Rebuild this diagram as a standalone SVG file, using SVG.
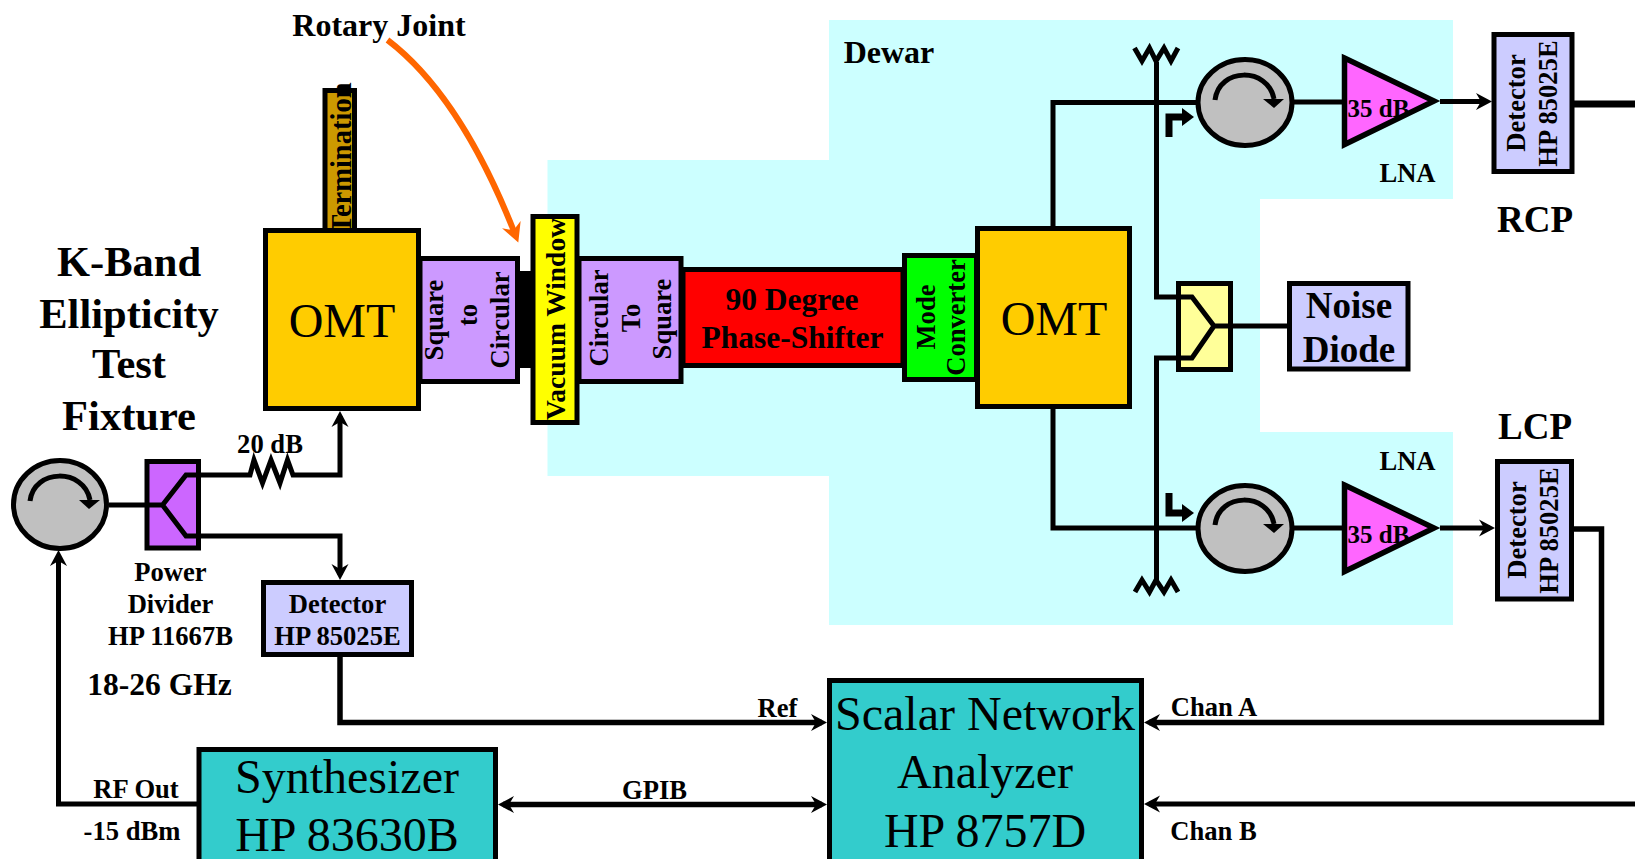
<svg xmlns="http://www.w3.org/2000/svg" width="1635" height="859" viewBox="0 0 1635 859">
<style>
text{font-family:"Liberation Serif","Times New Roman",serif;font-weight:bold;fill:#000;text-anchor:middle}
.reg{font-weight:normal}
.s26{font-size:26.6px}.s31{font-size:31.5px}.s36{font-size:37px}.s41{font-size:42.5px}.s47{font-size:48px}
.box{stroke:#000;stroke-width:5}
.wire{fill:none;stroke:#000;stroke-width:5;stroke-linejoin:miter}
.thick{stroke-width:5.5}
.heavy{stroke-width:7}
.circ{fill:#c0c0c0;stroke:#000;stroke-width:5}
.det{fill:#ccf}
.pur{fill:#c9f}
.omt{fill:#fc0}
.cyan{fill:#3cc}
.amp{fill:#f6f}
</style>
<defs>
<marker id="ah" markerUnits="userSpaceOnUse" markerWidth="18" markerHeight="20" refX="11" refY="9" orient="auto-start-reverse" viewBox="0 0 18 18"><path d="M0,0.5 L16,9 L0,17.5 L5,9 Z" fill="#000"/></marker>
<marker id="oh" markerUnits="userSpaceOnUse" markerWidth="20" markerHeight="24" refX="10" refY="10" orient="auto" viewBox="0 0 20 20"><path d="M0,0 L19,10 L0,20 L6,10 Z" fill="#f60"/></marker>
</defs>
<polygon id="dewar-area" fill="#cff" points="829,20 1453,20 1453,199 1260,199 1260,432 1453,432 1453,625 829,625 829,476 547.5,476 547.5,160 829,160"/>
<g id="connectors">
<path class="wire" d="M109,505 H150"/>
<path class="wire" d="M201,475 H237 L250,475 L254,460 L262.5,483 L271,460 L280,483 L287.5,460 L293,475 H340 V416" marker-end="url(#ah)"/>
<path class="wire" d="M201,536 H340 V575" marker-end="url(#ah)"/>
<path class="wire" d="M340,655 V722.5 H822" marker-end="url(#ah)" style="stroke-width:5.5"/>
<path class="wire" d="M198,804 H58.5 V555" marker-end="url(#ah)"/>
<path class="wire thick" d="M503,804.5 H822" marker-start="url(#ah)" marker-end="url(#ah)"/>
<path class="wire" d="M1574,529 H1601.5 V722.5 H1149" marker-end="url(#ah)" style="stroke-width:5.5"/>
<path class="wire" d="M1635,804 H1149" marker-end="url(#ah)"/>
<path class="wire" d="M1053,228 V102.5 H1198"/>
<path class="wire" d="M1053,408 V528 H1198"/>
<path class="wire" d="M1293,102 H1344"/>
<path class="wire" d="M1293,528 H1344"/>
<path class="wire" d="M1440,101.5 H1487" marker-end="url(#ah)"/>
<path class="wire" d="M1440,528 H1490" marker-end="url(#ah)"/>
<path class="wire heavy" d="M1574,104 H1635"/>
<path class="wire" d="M1156.5,62 V297 H1180"/>
<path class="wire" d="M1156.5,580 V358 H1180"/>
<path class="wire" d="M1134.5,48 L1142,61 L1149.5,48 L1156,61 L1164,48 L1171,61 L1178,48"/>
<path class="wire" d="M1135,592 L1142,580 L1149.5,592 L1156,580 L1164,592 L1171,580 L1178,592"/>
<path class="wire" d="M1230,326 H1290"/>
<path d="M387.5,40 C440,80 482,150 515,234" fill="none" stroke="#f60" stroke-width="6" marker-end="url(#oh)"/>
<path d="M1169,137 V117 H1182" fill="none" stroke="#000" stroke-width="7"/>
<path d="M1182,108 L1194,117 L1182,126 Z" fill="#000"/>
<path d="M1169,493 V513 H1182" fill="none" stroke="#000" stroke-width="7"/>
<path d="M1182,504 L1194,513 L1182,522 Z" fill="#000"/>
</g>
<g id="title"><text class="s41" x="129" y="275.5">K-Band</text><text class="s41" x="129" y="328">Ellipticity</text><text class="s41" x="129" y="378">Test</text><text class="s41" x="129" y="430">Fixture</text></g>
<g id="rotary-label"><text x="379" y="36" font-size="32">Rotary Joint</text></g>
<g id="dewar-label"><text x="889" y="62.5" font-size="32">Dewar</text></g>
<g id="termination"><rect class="box" x="325" y="90.5" width="29.5" height="140" fill="#c90"/><text font-size="28.5" transform="translate(350.5 158) rotate(-90)">Termination</text></g>
<g id="omt-left"><rect class="box omt" x="265.5" y="230.5" width="153" height="178"/><text class="reg" font-size="48" x="342" y="336.5">OMT</text></g>
<g id="square-to-circular"><rect class="box pur" x="420" y="258.5" width="97.5" height="123"/>
<text class="s26" transform="translate(443 320) rotate(-90)">Square</text><text class="s26" transform="translate(477 315) rotate(-90)">to</text><text class="s26" transform="translate(509 320) rotate(-90)">Circular</text></g>
<g id="rotary-joint"><rect x="520" y="271" width="11" height="97" fill="#000"/></g>
<g id="vacuum-window"><rect class="box" x="533" y="216.5" width="44" height="206" fill="#ff0"/><text font-size="27.5" transform="translate(565 319) rotate(-90)">Vacuum Window</text></g>
<g id="circular-to-square"><rect class="box pur" x="579" y="258.5" width="102" height="123"/>
<text class="s26" transform="translate(608 318) rotate(-90)">Circular</text><text class="s26" transform="translate(640 318) rotate(-90)">To</text><text class="s26" transform="translate(671 319) rotate(-90)">Square</text></g>
<g id="phase-shifter"><rect class="box" x="683" y="269.5" width="220" height="96" fill="#f00"/><text class="s31" x="792" y="310">90 Degree</text><text class="s31" x="792.5" y="347.5">Phase-Shifter</text></g>
<g id="mode-converter"><rect class="box" x="904.5" y="255.5" width="72" height="124" fill="#0f0"/><text class="s26" transform="translate(934.5 317) rotate(-90)">Mode</text><text class="s26" transform="translate(965 317.5) rotate(-90)">Converter</text></g>
<g id="omt-right"><rect class="box omt" x="977.5" y="228.5" width="152" height="178"/><text class="reg" font-size="48" x="1054" y="335">OMT</text></g>
<g id="circulator-input"><ellipse class="circ" cx="60" cy="504.5" rx="46.5" ry="44"/><path d="M30,501 C34,468 84,468 90,500" fill="none" stroke="#000" stroke-width="5"/><path d="M79,500 H100 L89,509 Z" fill="#000"/></g>
<g id="power-divider"><rect class="box" x="147" y="461.5" width="51.5" height="86.5" fill="#c6f"/><path class="wire" d="M145,505 H162.5 L186,475 H201 M162.5,505 L186,536 H201"/></g>
<g id="power-divider-label"><text class="s26" x="170.5" y="580.5">Power</text><text class="s26" x="170.5" y="612.5">Divider</text><text class="s26" x="170.5" y="645">HP 11667B</text></g>
<g id="freq-label"><text class="s31" x="159.5" y="695">18-26 GHz</text></g>
<g id="atten-label"><text class="s26" x="270" y="452.5">20 dB</text></g>
<g id="detector-ref"><rect class="box det" x="263.5" y="582.5" width="148" height="72"/><text class="s26" x="337.5" y="612.5">Detector</text><text class="s26" x="337.5" y="645">HP 85025E</text></g>
<g id="synthesizer"><rect class="box cyan" x="199" y="749.5" width="296.5" height="112"/><text class="reg s47" x="347" y="792.5">Synthesizer</text><text class="reg s47" x="347" y="851">HP 83630B</text></g>
<g id="rf-labels"><text class="s26" x="136" y="797.5">RF Out</text><text class="s26" x="132" y="840">-15 dBm</text></g>
<g id="analyzer"><rect class="box cyan" x="829.5" y="680.5" width="312" height="181"/><text class="reg s47" x="985" y="730">Scalar Network</text><text class="reg s47" x="985" y="788">Analyzer</text><text class="reg s47" x="985" y="846.5">HP 8757D</text></g>
<g id="port-labels"><text class="s26" x="777.5" y="717">Ref</text><text class="s26" x="654.5" y="799">GPIB</text><text class="s26" x="1214" y="715.5">Chan A</text><text class="s26" x="1213.5" y="840">Chan B</text></g>
<g id="circulator-top"><ellipse class="circ" cx="1245" cy="102.5" rx="47" ry="43"/><path d="M1215,100 C1219,67 1268,67 1274,99" fill="none" stroke="#000" stroke-width="5"/><path d="M1263,99 H1284 L1274,108 Z" fill="#000"/></g>
<g id="circulator-bottom"><ellipse class="circ" cx="1245" cy="528.5" rx="47" ry="43"/><path d="M1215,525 C1219,492 1268,492 1274,524" fill="none" stroke="#000" stroke-width="5"/><path d="M1263,524 H1284 L1274,533 Z" fill="#000"/></g>
<g id="lna-top"><path class="amp" d="M1344.5,58 L1434,101 L1344.5,144.5 Z"/><text font-size="25" x="1378.5" y="117">35 dB</text><path d="M1344.5,58 L1434,101 L1344.5,144.5 Z" fill="none" stroke="#000" stroke-width="5.5"/><text class="s26" x="1407.5" y="181.5">LNA</text></g>
<g id="lna-bottom"><path class="amp" d="M1344.5,485 L1434,528 L1344.5,571.5 Z"/><text font-size="25" x="1378.5" y="542.5">35 dB</text><path d="M1344.5,485 L1434,528 L1344.5,571.5 Z" fill="none" stroke="#000" stroke-width="5.5"/><text class="s26" x="1407.5" y="470">LNA</text></g>
<g id="detector-rcp"><rect class="box det" x="1494" y="34.5" width="78" height="137"/><text class="s26" transform="translate(1524.5 103) rotate(-90)">Detector</text><text class="s26" transform="translate(1557 103.5) rotate(-90)">HP 85025E</text></g>
<g id="rcp-label"><text class="s36" x="1535" y="231.5">RCP</text></g>
<g id="lcp-label"><text class="s36" x="1535" y="438.5">LCP</text></g>
<g id="detector-lcp"><rect class="box det" x="1497.5" y="461.5" width="74" height="137.5"/><text class="s26" transform="translate(1526 530) rotate(-90)">Detector</text><text class="s26" transform="translate(1558 530.5) rotate(-90)">HP 85025E</text></g>
<g id="combiner"><rect class="box" x="1178.5" y="283.5" width="52" height="86" fill="#ff9"/><path class="wire" d="M1176,297 H1192 L1214,326 H1233 M1214,326 L1192,358 H1176"/></g>
<g id="noise-diode"><rect class="box det" x="1289.5" y="283.5" width="118.5" height="85.5"/><text class="s36" x="1349" y="317.5">Noise</text><text class="s36" x="1349" y="362">Diode</text></g>
</svg>
